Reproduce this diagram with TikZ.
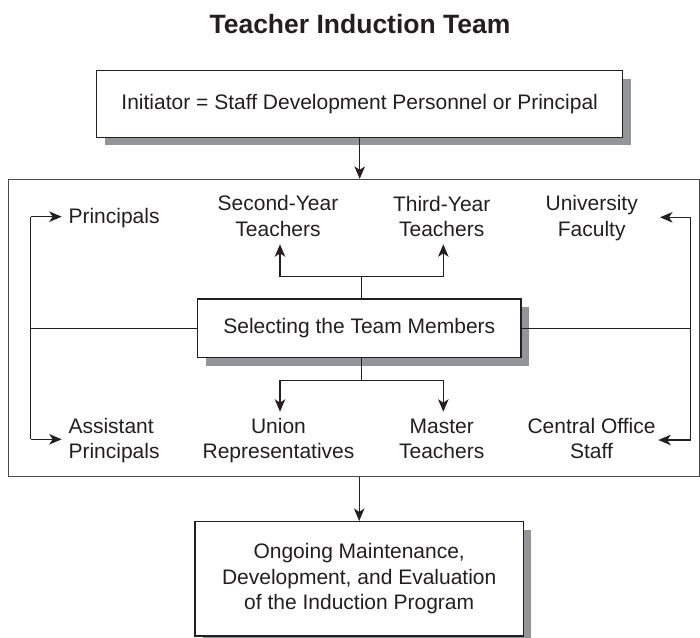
\documentclass[tikz,border=0pt]{standalone}
\usepackage{fontspec}
\setmainfont{Liberation Sans}
\usetikzlibrary{arrows.meta,shadows}
\definecolor{ink}{HTML}{231F20}
\definecolor{frameink}{HTML}{4A4A4C}
\definecolor{shade}{RGB}{147,149,152}
\begin{document}
\begin{tikzpicture}[x=1pt,y=-1pt,
  lbl/.style={font=\fontsize{21}{25.5}\selectfont, text=ink, inner sep=0pt, align=center},
  box/.style={lbl, draw=ink, line width=1.4pt, fill=white,
    general shadow={fill=shade, shadow xshift=8pt, shadow yshift=-8pt}},
  conn/.style={draw=ink, line width=1.2pt},
  arr/.style={conn, -{Stealth[length=12.5pt,width=10.5pt,inset=3.5pt]}},
]
\useasboundingbox (0,0) rectangle (700,637);
\node[font=\fontsize{26.5}{30}\selectfont\bfseries, text=ink, anchor=base, inner sep=0pt] (title) at (360,33.3) {Teacher Induction Team};

\node[box, minimum width=526pt, minimum height=66.6pt] (init) at (359.7,104) {Initiator = Staff Development Personnel or Principal};

\node[draw=frameink, line width=1.3pt, minimum width=691pt, minimum height=297.2pt, inner sep=0pt] (frame) at (353.8,328.1) {};

\node[box, minimum width=323.3pt, minimum height=58.7pt] (sel) at (359.3,328.3) {Selecting the Team Members};

\node[box, minimum width=328.3pt, minimum height=114.3pt] (bot) at (359.2,578.8) {Ongoing Maintenance,\\Development, and Evaluation\\of the Induction Program};

% labels (base anchor = baseline of the last line)
\node[lbl, anchor=base west] (princ) at (68.3,223.3) {Principals};
\node[lbl, anchor=base] (second) at (278,236.2) {Second-Year\\Teachers};
\node[lbl, anchor=base] (third) at (441.7,236.5) {Third-Year\\Teachers};
\node[lbl, anchor=base] (univ) at (591.7,236.2) {University\\Faculty};
\node[lbl, anchor=base west, align=left] (asst) at (68.3,458.8) {Assistant\\Principals};
\node[lbl, anchor=base] (union) at (278.5,458.8) {Union\\Representatives};
\node[lbl, anchor=base] (master) at (441.7,458.8) {Master\\Teachers};
\node[lbl, anchor=base] (central) at (591.5,458.8) {Central Office\\Staff};

% junction coordinates and arrow tips
\coordinate (ltop) at (30.7,216.7);
\coordinate (lbot) at (30.7,439.3);
\coordinate (rtop) at (690.7,217.3);
\coordinate (rbot) at (690.7,440);
\coordinate (ptip) at (61.7,216.7);
\coordinate (atip) at (61.7,439.3);
\coordinate (utip) at (660,217.3);
\coordinate (ctip) at (658.3,440);
\coordinate (tj) at (361.7,276.3);
\coordinate (bj) at (361.7,380.7);
\coordinate (stip) at (280,244.3);
\coordinate (ttip) at (443.3,244.3);
\coordinate (untip) at (280,411.7);
\coordinate (mtip) at (443.3,411.7);

% flow arrows
\draw[arr] (init.south) -- (init.south |- frame.north);
\draw[arr] (frame.south -| bot.north) -- (bot.north);

% left bus
\draw[conn] (sel.west) -- (sel.west -| ltop);
\draw[conn] (ltop) -- (lbot);
\draw[arr] (ltop) -- (ptip);
\draw[arr] (lbot) -- (atip);

% right bus
\draw[conn] (sel.east) -- (sel.east -| rtop);
\draw[conn] (rtop) -- (rbot);
\draw[arr] (rtop) -- (utip);
\draw[arr] (rbot) -- (ctip);

% top branch
\draw[conn] (sel.north -| tj) -- (tj);
\draw[arr] (tj) -| (stip);
\draw[arr] (tj) -| (ttip);

% bottom branch
\draw[conn] (sel.south -| bj) -- (bj);
\draw[arr] (bj) -| (untip);
\draw[arr] (bj) -| (mtip);
\end{tikzpicture}
\end{document}
